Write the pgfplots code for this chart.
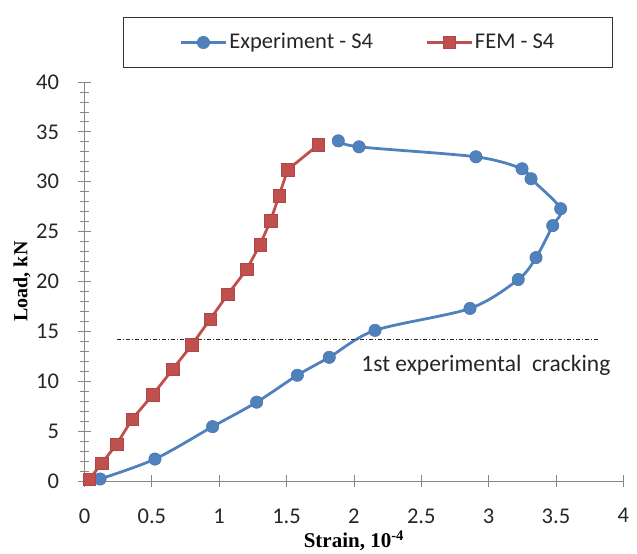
\documentclass[border=0pt]{standalone}
\usepackage{pgfplots}
\pgfplotsset{compat=1.18}
\usepackage{fontspec}
\setmainfont{Carlito}
\newfontfamily\tnr{Liberation Serif}
\definecolor{xblue}{HTML}{4F81BD}
\definecolor{xred}{HTML}{C0504D}
\definecolor{axgray}{HTML}{868686}
\begin{document}
\fontsize{22bp}{26bp}\selectfont
\begin{tikzpicture}
\path[use as bounding box] (-84.5bp,-73bp) rectangle (552.5bp,481bp);
\begin{axis}[
  at={(0,0)}, anchor=south west,
  scale only axis, width=538.8bp, height=399bp,
  xmin=0, xmax=4, ymin=0, ymax=40,
  axis x line*=bottom, axis y line*=left,
  axis line style={-, axgray, line width=0.8bp},
  xtick={0,0.5,1,1.5,2,2.5,3,3.5,4},
  ytick={0,5,10,15,20,25,30,35,40},
  minor y tick num=4,
  tick align=center,
  major tick length=12bp, minor tick length=9bp,
  tick style={axgray, line width=0.8bp},
  /pgf/number format/assume math mode=true,
  tick label style={font=\fontsize{22.5bp}{26bp}\selectfont, text=black!85},
  xticklabel style={yshift=-14bp},
  yticklabel style={xshift=-12bp},
  xlabel={\tnr\bfseries Strain, 10\textsuperscript{-4}},
  ylabel={\tnr\bfseries Load, kN},
  xlabel style={at={(axis description cs:0.5,-0.150)}, anchor=center, font=\fontsize{21bp}{25bp}\selectfont},
  ylabel style={at={(axis description cs:-0.116,0.5)}, anchor=center, font=\fontsize{20bp}{24bp}\selectfont},
  legend columns=2,
  legend style={at={(axis description cs:0.526,1.099)}, anchor=center,
    draw=black!80, line width=0.8bp, fill=white,
    inner xsep=56bp, inner ysep=14bp,
    font=\fontsize{22.5bp}{26bp}\selectfont, text=black!85,
    /tikz/every even column/.append style={column sep=50bp}},
  legend cell align=left,
  legend image code/.code={\draw[mark repeat=2,mark phase=2,#1] plot coordinates {(0bp,0bp)(22.5bp,0bp)(45bp,0bp)};},
]
\addplot[xblue, line width=2.8bp, smooth, tension=0.5, mark=*, mark size=6.2bp,
  mark options={fill=xblue, draw=xblue!90!black, line width=0.5bp}] coordinates {
  (0.115,0.2) (0.523,2.2) (0.951,5.45) (1.278,7.9) (1.58,10.6) (1.817,12.4)
  (2.157,15.1) (2.862,17.3) (3.22,20.2) (3.352,22.4) (3.476,25.6) (3.535,27.3)
  (3.315,30.3) (3.248,31.3) (2.906,32.5) (2.038,33.5) (1.884,34.1)};
\addlegendentry{Experiment - S4}
\addplot[xred, line width=2.8bp, mark=square*, mark size=6.2bp,
  mark options={fill=xred, draw=xred!90!black, line width=0.5bp}] coordinates {
  (0.036,0.17) (0.128,1.78) (0.239,3.68) (0.353,6.19) (0.506,8.63) (0.655,11.2)
  (0.796,13.64) (0.932,16.2) (1.063,18.7) (1.204,21.2) (1.303,23.7) (1.382,26.1)
  (1.444,28.6) (1.508,31.2) (1.736,33.7)};
\addlegendentry{FEM - S4}
\addplot[black!85, line width=1bp, dash pattern=on 4bp off 2bp on 1bp off 2bp, forget plot] coordinates {(0.243,14.2) (3.81,14.2)};
\node[anchor=west, text=black!85, font=\fontsize{23.5bp}{27bp}\selectfont] at (axis cs:2.0,11.6) {1st experimental\ \ cracking};
\end{axis}
\end{tikzpicture}
\end{document}
